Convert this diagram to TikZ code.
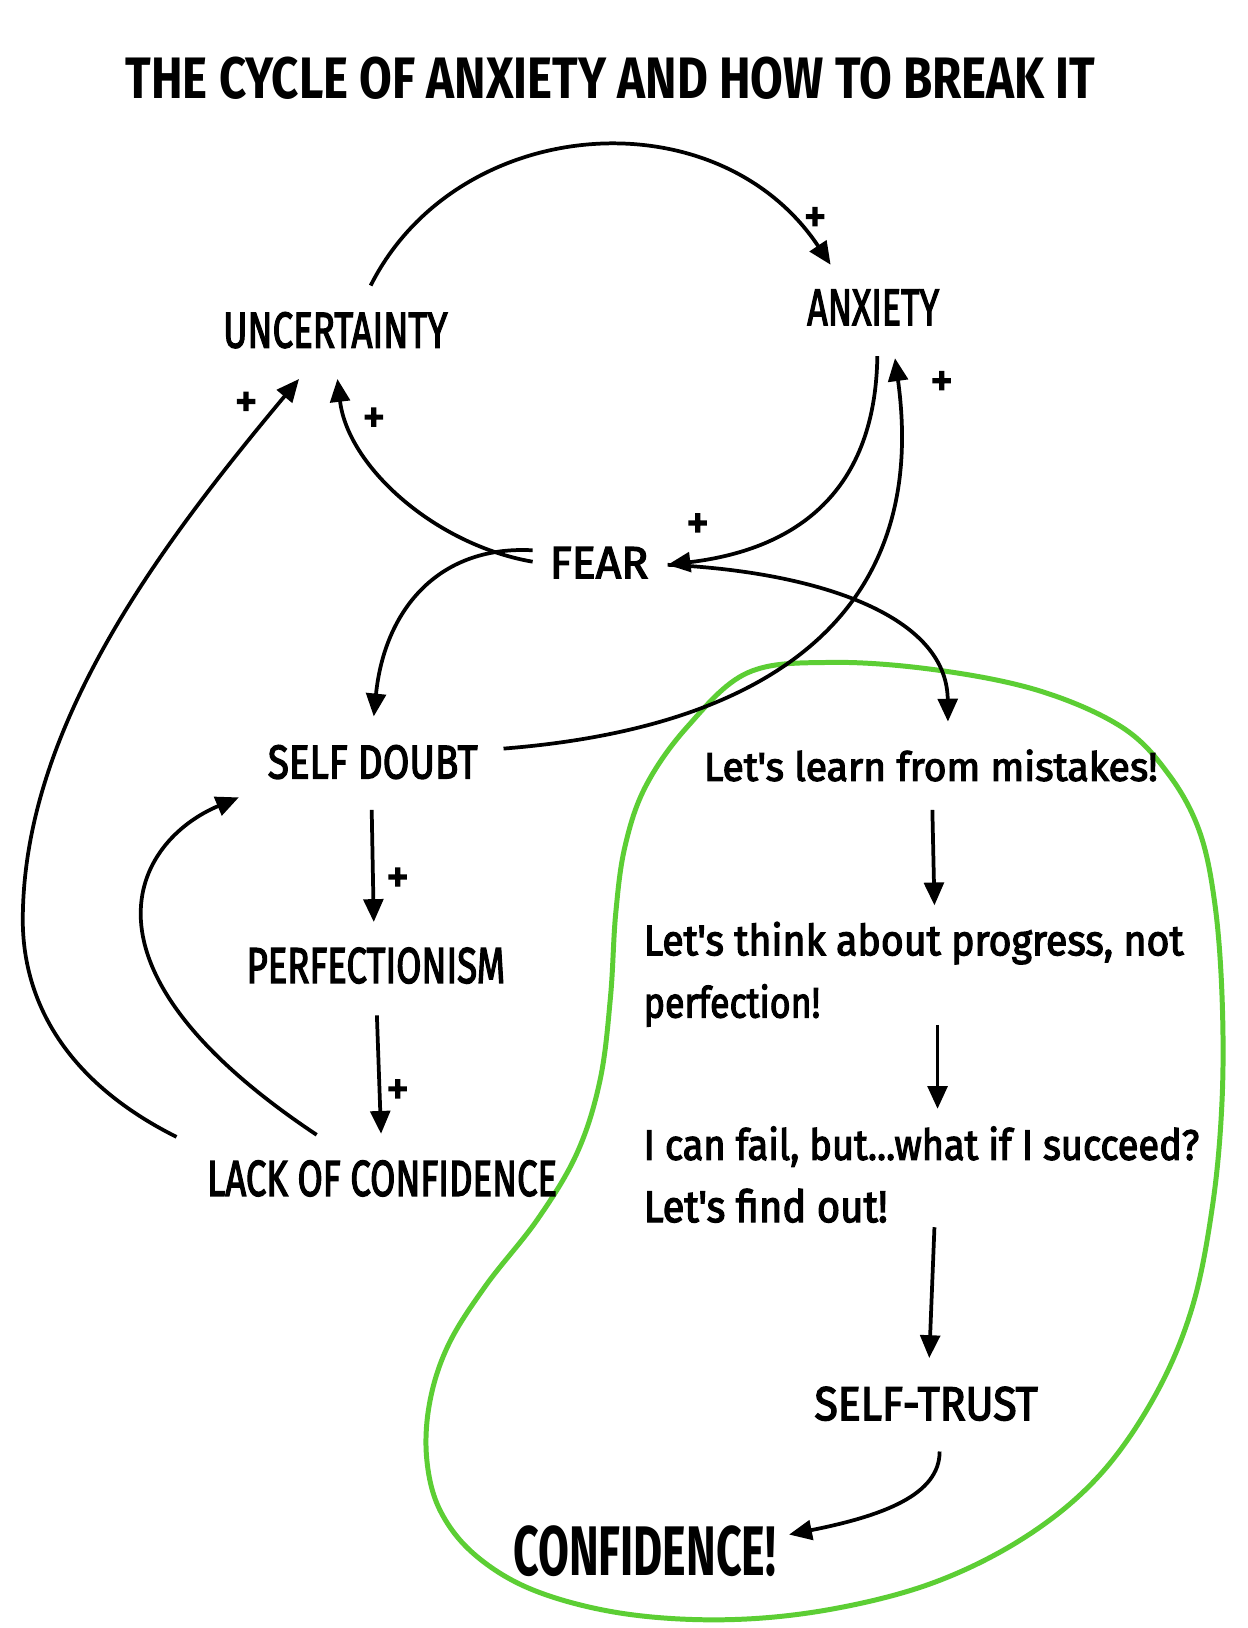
\documentclass[tikz,border=0pt]{standalone}
\usepackage{fontspec}
\setmainfont{Fira Sans}
\newfontfamily\medfont[FakeBold=3]{Fira Sans}
\usepackage{graphicx}
\usetikzlibrary{arrows.meta,calc}
\definecolor{blobgreen}{RGB}{92,206,52}
\newcommand{\fitbox}[3]{\resizebox{#1}{#2}{#3}}
\begin{document}
\begin{tikzpicture}[x=0.5pt,y=-0.5pt,
  conn/.style={-{Triangle[length=11pt,width=9.5pt]},line width=1.8pt},
  capnode/.style={inner sep=0pt,outer sep=0pt,font=\medfont},
  boldnode/.style={inner sep=0pt,outer sep=0pt,font=\bfseries},
  txtnode/.style={inner sep=0pt,outer sep=0pt,anchor=base west,font=\medfont},
  plussign/.style={inner sep=0pt,font=\medfont}]
\path[use as bounding box,fill=white] (0,0) rectangle (1202,1568);

% green blob
\draw[blobgreen,line width=2.4pt] plot[smooth cycle,tension=0.6] coordinates {
 (720,648) (800,638) (900,645) (1000,665) (1080,700) (1125,745) (1155,800)
 (1170,870) (1177,960) (1177,1060) (1168,1160) (1148,1260) (1112,1345)
 (1058,1422) (988,1480) (900,1524) (800,1550) (700,1560) (600,1554)
 (515,1532) (458,1498) (424,1455) (411,1405) (414,1350) (432,1295)
 (468,1238) (518,1174) (556,1110) (578,1040) (588,960) (593,880)
 (602,815) (622,757) (662,700)};

% title
\node[boldnode] (title) at (588,75) {\fitbox{467pt}{20pt}{THE CYCLE OF ANXIETY AND HOW TO BREAK IT}};

% nodes
\node[capnode] (unc) at (323,318) {\fitbox{108pt}{17pt}{UNCERTAINTY}};
\node[capnode] (anx) at (841,296) {\fitbox{63.5pt}{17pt}{ANXIETY}};
\node[capnode] (fear) at (577,542) {\fitbox{47.5pt}{15pt}{FEAR}};
\node[capnode] (sd) at (359,734) {\fitbox{101pt}{16pt}{SELF DOUBT}};
\node[capnode] (perf) at (362,930) {\fitbox{124.5pt}{17pt}{PERFECTIONISM}};
\node[capnode] (lack) at (368,1135) {\fitbox{168.5pt}{17pt}{LACK OF CONFIDENCE}};
\node[txtnode] (learn) at (678,752) {\fitbox{218.5pt}{15pt}{Let's learn from mistakes!}};
\node[txtnode] (think1) at (620,920) {\fitbox{260pt}{16pt}{Let's think about progress, not}};
\node[txtnode] (think2) at (620,980) {\fitbox{85pt}{16pt}{perfection!}};
\node[txtnode] (fail1) at (620,1117) {\fitbox{267.5pt}{16pt}{I can fail, but...what if I succeed?}};
\node[txtnode] (fail2) at (620,1177) {\fitbox{117.5pt}{16pt}{Let's find out!}};
\node[capnode] (trust) at (892,1352) {\fitbox{107.5pt}{16pt}{SELF-TRUST}};
\node[boldnode] (conf) at (621,1494) {\fitbox{126.5pt}{24pt}{CONFIDENCE!}};

% plus signs
\node[plussign] (p1) at (785,212) {\fitbox{11pt}{12pt}{+}};
\node[plussign] (p2) at (672,507) {\fitbox{11pt}{12pt}{+}};
\node[plussign] (p3) at (360,405) {\fitbox{11pt}{12pt}{+}};
\node[plussign] (p4) at (907,370) {\fitbox{11pt}{12pt}{+}};
\node[plussign] (p5) at (237,390) {\fitbox{11pt}{12pt}{+}};
\node[plussign] (p6) at (383,848) {\fitbox{11pt}{12pt}{+}};
\node[plussign] (p7) at (383,1052) {\fitbox{11pt}{12pt}{+}};

% connectors
\draw[conn] ($(unc)+(34,-43)$) .. controls (440,110) and (690,90) .. ($(anx)+(-41,-41)$);
\draw[conn] ($(anx)+(4,47)$) .. controls (843,480) and (760,530) .. ($(fear)+(66,2)$);
\draw[conn] ($(fear)+(-64,-1)$) .. controls (420,525) and (335,450) .. ($(unc)+(2,47)$);
\draw[conn] ($(fear)+(-64,-12)$) .. controls (420,525) and (370,590) .. ($(sd)+(1,-44)$);
\draw[conn] ($(sd)+(126,-13)$) .. controls (750,700) and (895,585) .. ($(anx)+(21,49)$);
\draw[conn] ($(fear)+(66,2)$) .. controls (780,550) and (912,590) .. ($(learn.base west)+(235,-57)$);
\draw[conn] ($(lack)+(-198,-40)$) .. controls (60,1040) and (20,960) .. (22,880)
   .. controls (25,700) and (150,530) .. ($(unc)+(-35,47)$);
\draw[conn] ($(lack)+(-63,-42)$) .. controls (60,930) and (130,810) .. ($(sd)+(-129,34)$);
\draw[conn] ($(sd)+(-1,46)$) -- ($(perf)+(-2,-42)$);
\draw[conn] ($(perf)+(1,48)$) -- ($(lack)+(-1,-43)$);
\draw[conn] ($(learn.base west)+(220,28)$) -- ($(think1.base west)+(280,-48)$);
\draw[conn] ($(think2.base west)+(283,7)$) -- ($(fail1.base west)+(283,-49)$);
\draw[conn] ($(fail2.base west)+(280,5)$) -- ($(trust)+(3,-44)$);
\draw[conn] ($(trust)+(13,46)$) .. controls (905,1440) and (850,1460) .. ($(conf)+(139,-16)$);
\end{tikzpicture}
\end{document}
